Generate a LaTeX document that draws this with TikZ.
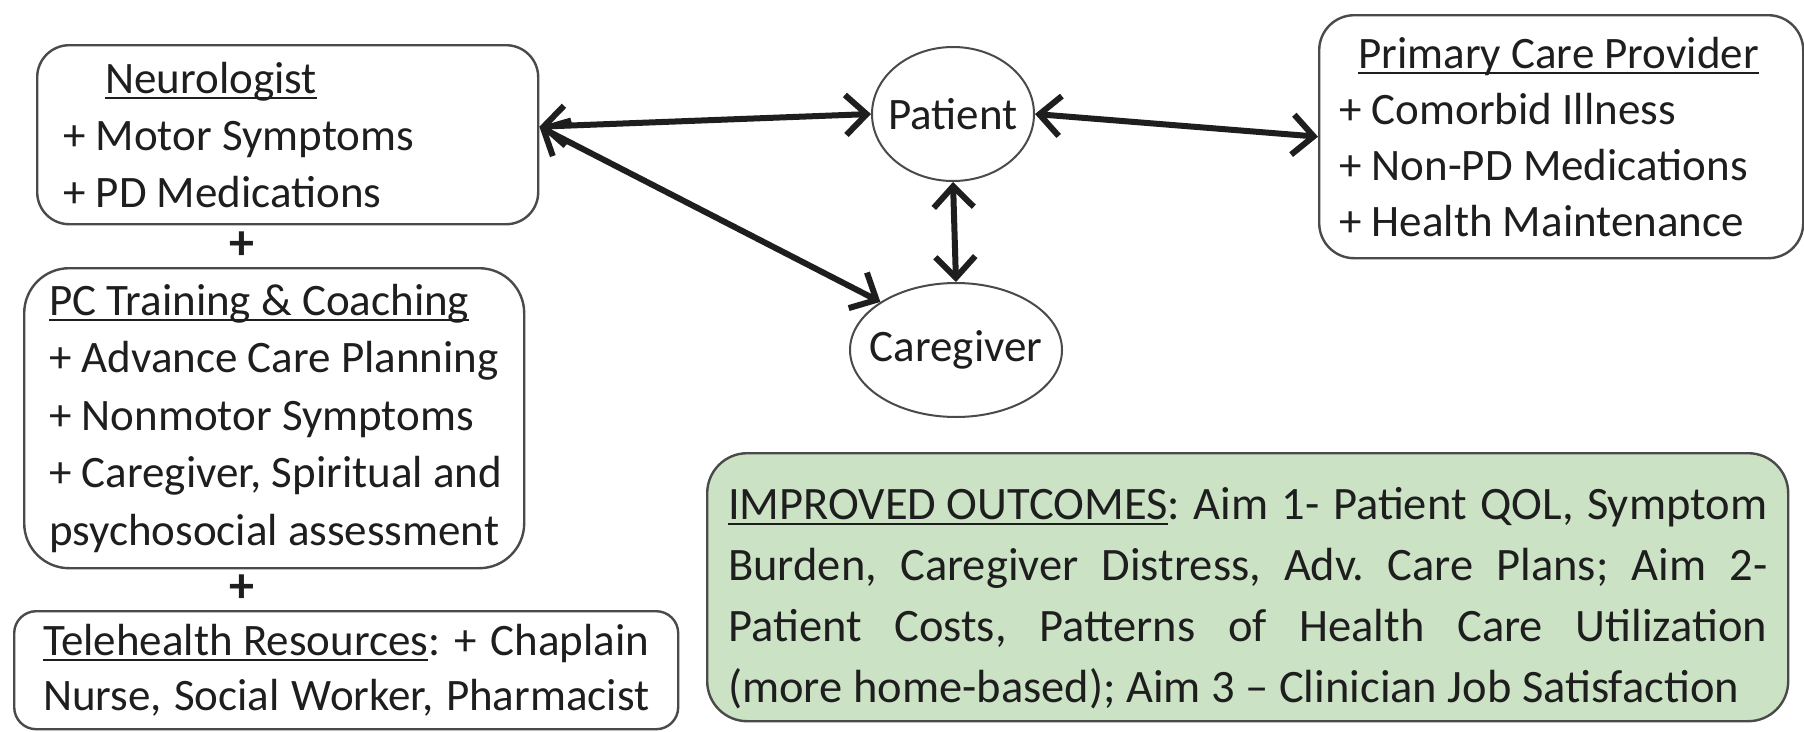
\documentclass[tikz,border=0pt]{standalone}
\usepackage{fontspec}
\setmainfont{Carlito}
\usetikzlibrary{arrows.meta,shapes.geometric}
\definecolor{ink}{HTML}{1E1E1E}
\definecolor{edge}{HTML}{4A4A4A}
\definecolor{outfill}{RGB}{203,226,197}
% underline set close to the baseline, through descenders
\newcommand\hdr[1]{\setbox0\hbox{#1}\rlap{\rule[-6pt]{\wd0}{2.4pt}}\box0}
% the font's own word spaces instead of fixed ragged-right ones
\newcommand\natsp{\spaceskip=0pt\xspaceskip=0pt\relax}
% zero-width label so the ellipse keeps its given size
\newcommand\inbubble[1]{\makebox[0pt]{#1}}
\frenchspacing
\hyphenpenalty=10000
\begin{document}
\begin{tikzpicture}[x=1pt,y=-1pt,
  every node/.style={font=\fontsize{45}{57}\selectfont, text=ink},
  card/.style={draw=edge, line width=2.4pt, fill=white, anchor=north west,
    align=left, inner ysep=0pt},
  bubble/.style={ellipse, draw=edge, line width=2pt, inner sep=0pt, fill=white},
  link/.style={line width=6pt, draw=ink,
    {Straight Barb[length=21pt,width=40pt]}-{Straight Barb[length=21pt,width=40pt]}},
  joiner/.style={font=\fontsize{50}{50}\bfseries\selectfont, inner sep=0pt}
]
\fill[white] (0,0) rectangle (1804,731);
\useasboundingbox (0,0) rectangle (1804,731);

% care team on the left
\node[card, rounded corners=32pt, minimum width=501pt, minimum height=179pt,
  inner xsep=26pt, text width=449pt] (neuro) at (36,44)
  {\natsp\hspace*{42pt}\hdr{Neurologist}\\+ Motor Symptoms\\+ PD Medications};
\node[joiner] (plusA) at (242,246) {+};
\node[card, rounded corners=45pt, minimum width=500pt, minimum height=300pt,
  inner xsep=16pt, text width=468pt, font=\fontsize{45}{57.5}\selectfont] (pc) at (23,267)
  {\natsp\hspace*{9pt}\hdr{PC Training \& Coaching}\\
   \hspace*{9pt}+ Advance Care Planning\\
   \hspace*{9pt}+ Nonmotor Symptoms\\
   \hspace*{9pt}+ Caregiver, Spiritual and\\
   \hspace*{9pt}psychosocial assessment};
\node[joiner] (plusB) at (242,589) {+};
\node[card, rounded corners=22pt, minimum width=664pt, minimum height=118pt,
  inner xsep=29pt, text width=606pt, font=\fontsize{45}{55}\selectfont] (tele) at (13,610)
  {\natsp\makebox[606pt][s]{\hdr{Telehealth Resources}: + Chaplain}\\
   \makebox[606pt][s]{Nurse, Social Worker, Pharmacist}};

% patient and caregiver
\node[bubble, minimum width=162pt, minimum height=134pt] (patient) at (953,114)
  {\inbubble{Patient}};
\node[bubble, minimum width=212pt, minimum height=134pt] (caregiver) at (956,350)
  {\inbubble{Caregiver}};

% primary care provider
\node[card, rounded corners=35pt, minimum width=484pt, minimum height=243pt,
  inner xsep=20pt, text width=444pt, font=\fontsize{45}{56}\selectfont] (pcp) at (1318,14)
  {\natsp\hspace*{19pt}\hdr{Primary Care Provider}\\+ Comorbid Illness\\+ Non-PD Medications\\
   + Health Maintenance};

% outcomes
\node[card, fill=outfill, rounded corners=40pt, minimum width=1081pt, minimum height=268pt,
  inner xsep=21pt, text width=1039pt, font=\fontsize{46.5}{61}\selectfont] (out) at (706,452)
  {\natsp\makebox[1039pt][s]{\rule{0pt}{54pt}\hdr{IMPROVED OUTCOMES}: Aim 1- Patient QOL, Symptom}\\
   \makebox[1039pt][s]{Burden, Caregiver Distress, Adv. Care Plans; Aim 2-}\\
   \makebox[1039pt][s]{Patient Costs, Patterns of Health Care Utilization}\\
   (more home-based); Aim 3 -- Clinician Job Satisfaction};

% connectors
\coordinate (hub) at ([yshift=8pt]neuro.east);
\draw[link] (hub) -- (patient.west);
\draw[link] (hub) -- (caregiver.north west);
\draw[link] (patient.east) -- (pcp.west);
\draw[link] (patient.south) -- (caregiver.north);
\end{tikzpicture}
\end{document}
